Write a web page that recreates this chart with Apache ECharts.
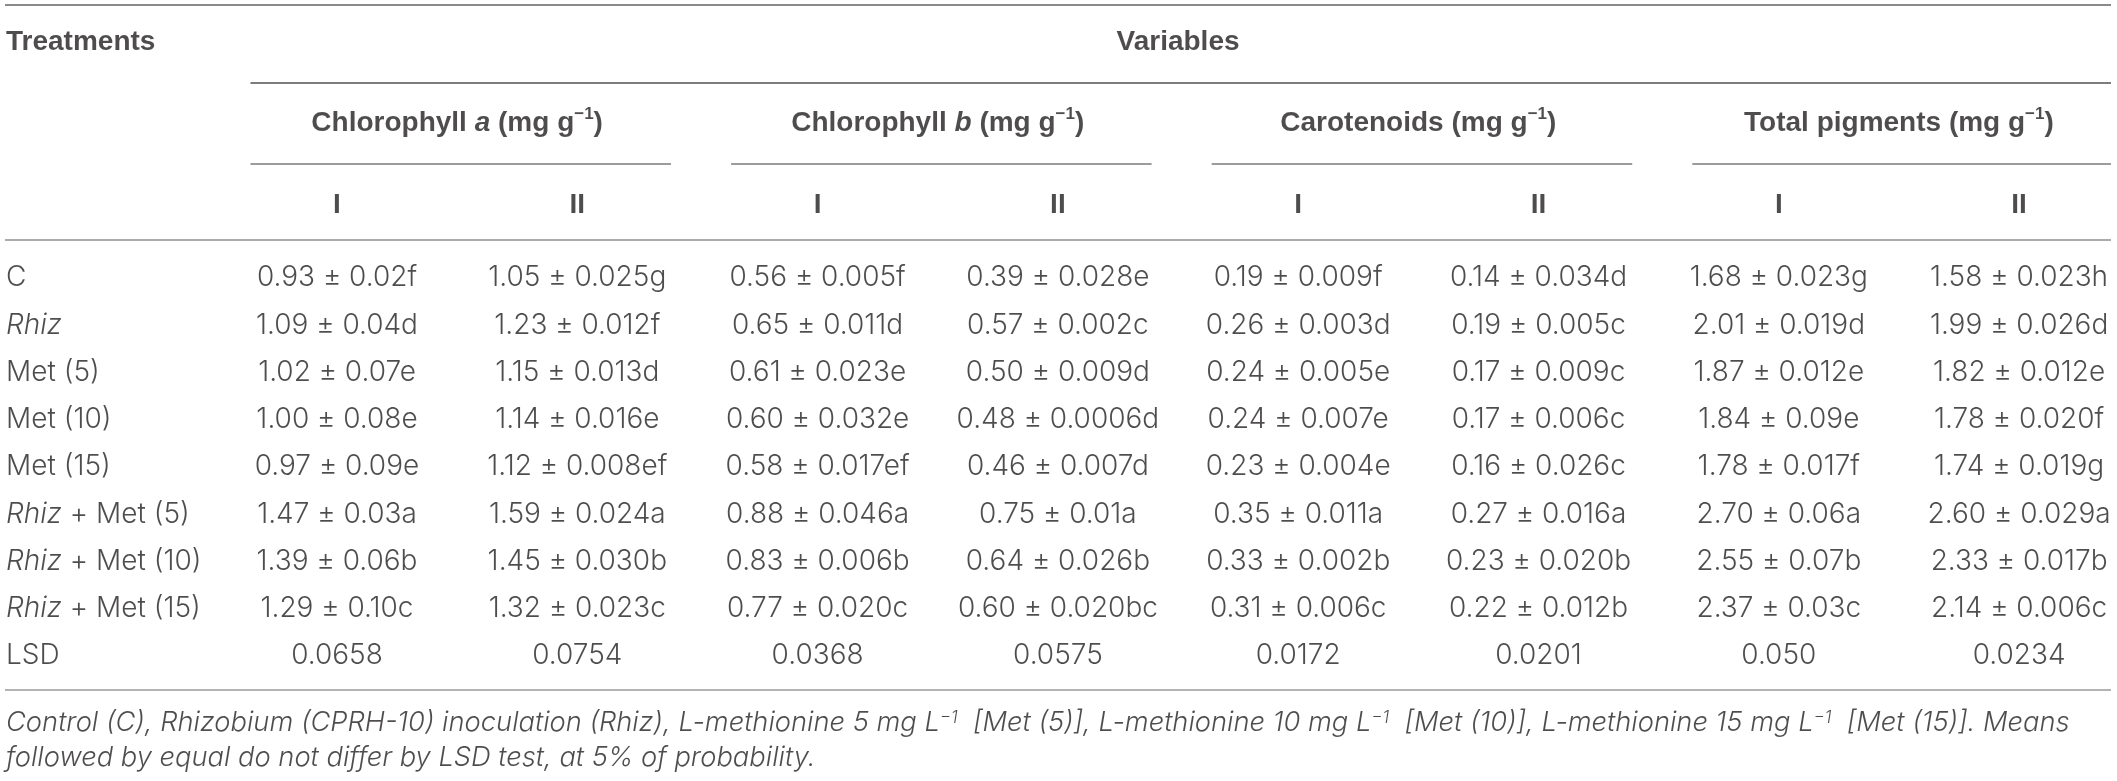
<!DOCTYPE html>
<html>
<head>
<meta charset="utf-8">
<script src="https://cdn.jsdelivr.net/npm/echarts@6/dist/echarts.min.js"></script>
<style>
  html, body { margin: 0; padding: 0; background: #fff; }
  #table { width: 2117px; height: 781px; }
</style>
</head>
<body>
<div id="table"></div>
<script>
// table data
var treatments = ['C', 'Rhiz', 'Met (5)', 'Met (10)', 'Met (15)', 'Rhiz + Met (5)', 'Rhiz + Met (10)', 'Rhiz + Met (15)'];
var variables = ['Chlorophyll a', 'Chlorophyll b', 'Carotenoids', 'Total pigments'];
var seasons = ['I', 'II'];
var chlaI  = ['0.93 ± 0.02f', '1.09 ± 0.04d', '1.02 ± 0.07e', '1.00 ± 0.08e', '0.97 ± 0.09e', '1.47 ± 0.03a', '1.39 ± 0.06b', '1.29 ± 0.10c'];
var chlaII = ['1.05 ± 0.025g', '1.23 ± 0.012f', '1.15 ± 0.013d', '1.14 ± 0.016e', '1.12 ± 0.008ef', '1.59 ± 0.024a', '1.45 ± 0.030b', '1.32 ± 0.023c'];
var chlbI  = ['0.56 ± 0.005f', '0.65 ± 0.011d', '0.61 ± 0.023e', '0.60 ± 0.032e', '0.58 ± 0.017ef', '0.88 ± 0.046a', '0.83 ± 0.006b', '0.77 ± 0.020c'];
var chlbII = ['0.39 ± 0.028e', '0.57 ± 0.002c', '0.50 ± 0.009d', '0.48 ± 0.0006d', '0.46 ± 0.007d', '0.75 ± 0.01a', '0.64 ± 0.026b', '0.60 ± 0.020bc'];
var carI   = ['0.19 ± 0.009f', '0.26 ± 0.003d', '0.24 ± 0.005e', '0.24 ± 0.007e', '0.23 ± 0.004e', '0.35 ± 0.011a', '0.33 ± 0.002b', '0.31 ± 0.006c'];
var carII  = ['0.14 ± 0.034d', '0.19 ± 0.005c', '0.17 ± 0.009c', '0.17 ± 0.006c', '0.16 ± 0.026c', '0.27 ± 0.016a', '0.23 ± 0.020b', '0.22 ± 0.012b'];
var totI   = ['1.68 ± 0.023g', '2.01 ± 0.019d', '1.87 ± 0.012e', '1.84 ± 0.09e', '1.78 ± 0.017f', '2.70 ± 0.06a', '2.55 ± 0.07b', '2.37 ± 0.03c'];
var totII  = ['1.58 ± 0.023h', '1.99 ± 0.026d', '1.82 ± 0.012e', '1.78 ± 0.020f', '1.74 ± 0.019g', '2.60 ± 0.029a', '2.33 ± 0.017b', '2.14 ± 0.006c'];
var lsd    = ['0.0658', '0.0754', '0.0368', '0.0575', '0.0172', '0.0201', '0.050', '0.0234'];
var columns = [chlaI, chlaII, chlbI, chlbII, carI, carII, totI, totII];

var note1 = 'Control (C), Rhizobium (CPRH-10) inoculation (Rhiz), L-methionine 5 mg L{ns|−1}  [Met (5)], L-methionine 10 mg L{ns|−1}  [Met (10)], L-methionine 15 mg L{ns|−1}  [Met (15)]. Means';
var note2 = 'followed by equal do not differ by LSD test, at 5% of probability.';

// layout (pixels), converted to column / row units of the grid
var COL0 = 337, COL_W = 240.3, ROW0 = 278, ROW_H = 47.25;
var LEFT = 5, RIGHT = 2111;
function cx(px) { return (px - COL0) / COL_W; }
function ry(px) { return (px - ROW0) / ROW_H; }

var chart = echarts.init(document.getElementById('table'));
var W = chart.getWidth(), H = chart.getHeight();

var ink = '#231f20';
var light = 'Inter, "Liberation Sans", sans-serif', bold = '"Liberation Sans", Arial, sans-serif';

var headStyle = { fontFamily: bold, fontWeight: 'bold', fontSize: 28, lineHeight: 34, color: ink };
var noteStyle = { align: 'left', fontStyle: 'italic', fontSize: 27.3 };
var cells = [];

// header
cells.push({ value: [cx(LEFT + 1), ry(42)], name: 'Treatments', label: Object.assign({ align: 'left' }, headStyle) });
cells.push({ value: [3.5, ry(42)], name: 'Variables', label: headStyle });
variables.forEach(function (v, g) {
    var m = v.match(/^(.*) ([ab])$/);
    var txt = m ? '{hb|' + m[1] + ' }{hi|' + m[2] + '}{hb| (mg g}{hs|−1}{hb|)}'
                : '{hb|' + v + ' (mg g}{hs|−1}{hb|)}';
    cells.push({ value: [2 * g + 0.5, ry(123)], name: txt, label: headStyle });
    seasons.forEach(function (s, j) {
        cells.push({ value: [2 * g + j, ry(205)], name: s, label: headStyle });
    });
});

// body
treatments.forEach(function (t, k) {
    cells.push({ value: [cx(LEFT + 1), k], name: t.replace('Rhiz', '{it|Rhiz}'), label: { align: 'left' } });
    columns.forEach(function (col, i) {
        cells.push({ value: [i, k], name: col[k] });
    });
});
cells.push({ value: [cx(LEFT + 1), treatments.length], name: 'LSD', label: { align: 'left' } });
lsd.forEach(function (v, i) {
    cells.push({ value: [i, treatments.length], name: v });
});

// footnote
cells.push({ value: [cx(LEFT + 1), ry(723)], name: note1, label: noteStyle });
cells.push({ value: [cx(LEFT + 1), ry(758)], name: note2, label: noteStyle });

// rules
function rule(x1, x2, ypx, color, width) {
    return [{ coord: [x1, ry(ypx)], lineStyle: { color: color, width: width, type: 'solid' } }, { coord: [x2, ry(ypx)] }];
}
var rules = [
    rule(cx(LEFT), cx(RIGHT), 5, '#8a8a8a', 2),
    rule(-0.36, cx(RIGHT), 83, '#7c7c7c', 2),
    rule(cx(LEFT), cx(RIGHT), 240, '#ababab', 2),
    rule(cx(LEFT), cx(RIGHT), 690, '#b3b3b3', 2)
];
variables.forEach(function (v, g) {
    rules.push(rule(2 * g - 0.36, Math.min(2 * g + 1.39, cx(RIGHT)), 164, '#9c9c9c', 2));
});

var option = {
    animation: false,
    backgroundColor: '#fff',
    grid: { left: 0, right: 0, top: 0, bottom: 0 },
    xAxis: { type: 'value', min: cx(0), max: cx(W), show: false },
    yAxis: { type: 'value', inverse: true, min: ry(0), max: ry(H), show: false },
    series: [{
        type: 'scatter',
        silent: true,
        symbolSize: 0,
        data: cells,
        label: {
            show: true,
            position: 'inside',
            formatter: function (p) { return p.name; },
            fontFamily: light,
            fontWeight: 300,
            fontSize: 28,
            color: ink,
            rich: {
                it: { fontFamily: light, fontWeight: 300, fontStyle: 'italic', fontSize: 28, color: ink },
                hb: { fontFamily: bold, fontWeight: 'bold', fontSize: 28, lineHeight: 34, color: ink },
                hi: { fontFamily: bold, fontWeight: 'bold', fontStyle: 'italic', fontSize: 28, lineHeight: 34, color: ink },
                hs: { fontFamily: bold, fontWeight: 'bold', fontSize: 17, lineHeight: 17, verticalAlign: 'top', color: ink },
                ns: { fontFamily: light, fontWeight: 300, fontSize: 17, lineHeight: 17, verticalAlign: 'top', color: ink }
            }
        },
        markLine: {
            silent: true,
            symbol: ['none', 'none'],
            label: { show: false },
            data: rules
        }
    }]
};
chart.setOption(option);
window.onresize = chart.resize;
</script>
</body>
</html>
